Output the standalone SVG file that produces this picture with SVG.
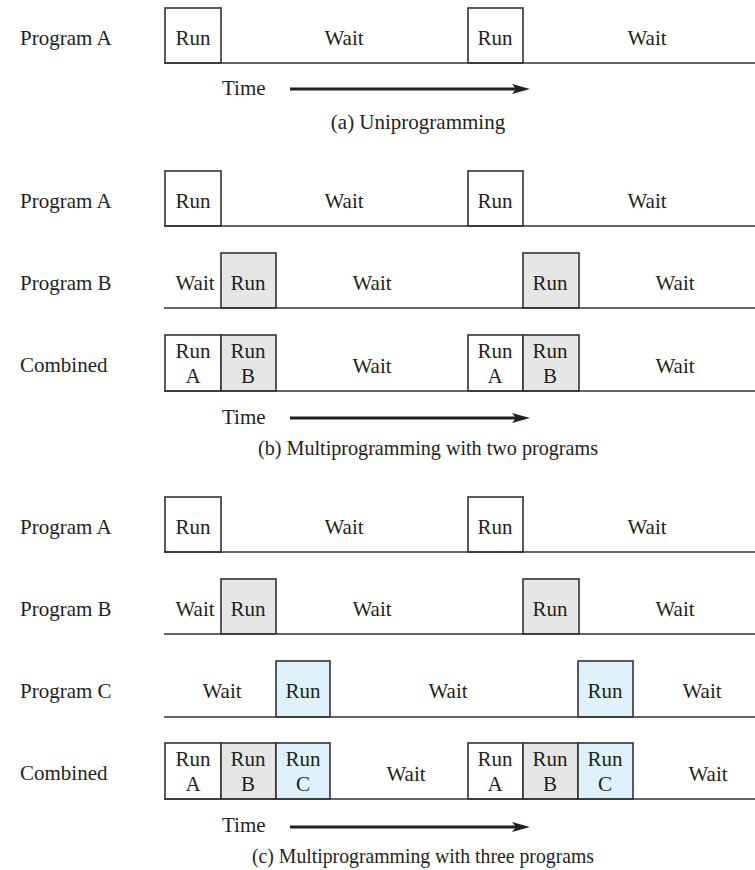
<svg xmlns="http://www.w3.org/2000/svg" width="755" height="870" viewBox="0 0 755 870">
<defs>
<style>
text{font-family:"Liberation Serif","DejaVu Serif",serif;font-size:21px;fill:#231f20}
.c{text-anchor:middle}
.box{stroke:#333;stroke-width:1.6}
.w{fill:#fff}
.g{fill:#e6e6e6}
.b{fill:#dff1fb}
.base{stroke:#333;stroke-width:1.6;fill:none}
.arrow{stroke:#231f20;stroke-width:3;fill:none;marker-end:url(#ah)}
</style>
<marker id="ah" markerUnits="userSpaceOnUse" markerWidth="20" markerHeight="10" refX="8" refY="5" orient="auto">
<path d="M0,0 L18,5 L0,10 L4,5 z" fill="#231f20"/>
</marker>
</defs>
<rect width="755" height="870" fill="#fff"/>

<!-- (a) -->
<g id="a-progA">
<text x="20" y="45">Program A</text>
<rect class="box w" x="165" y="8" width="56" height="55"/>
<rect class="box w" x="468" y="8" width="55" height="55"/>
<line class="base" x1="164" y1="63" x2="755" y2="63"/>
<text class="c" x="193" y="45">Run</text>
<text class="c" x="344" y="45">Wait</text>
<text class="c" x="495" y="45">Run</text>
<text class="c" x="647" y="45">Wait</text>
</g>
<g id="a-time">
<text x="222" y="95">Time</text>
<text class="c" x="418" y="129">(a) Uniprogramming</text>
</g>

<!-- (b) -->
<g id="b-progA">
<text x="20" y="208">Program A</text>
<rect class="box w" x="165" y="171" width="56" height="55"/>
<rect class="box w" x="468" y="171" width="55" height="55"/>
<line class="base" x1="164" y1="226" x2="755" y2="226"/>
<text class="c" x="193" y="208">Run</text>
<text class="c" x="344" y="208">Wait</text>
<text class="c" x="495" y="208">Run</text>
<text class="c" x="647" y="208">Wait</text>
</g>
<g id="b-progB">
<text x="20" y="290">Program B</text>
<rect class="box g" x="221" y="253" width="55" height="55"/>
<rect class="box g" x="523" y="253" width="56" height="55"/>
<line class="base" x1="164" y1="308" x2="755" y2="308"/>
<text class="c" x="195" y="290">Wait</text>
<text class="c" x="248" y="290">Run</text>
<text class="c" x="372" y="290">Wait</text>
<text class="c" x="550" y="290">Run</text>
<text class="c" x="675" y="290">Wait</text>
</g>
<g id="b-combined">
<text x="20" y="372">Combined</text>
<rect class="box w" x="165" y="335" width="56" height="56"/>
<rect class="box g" x="221" y="335" width="55" height="56"/>
<rect class="box w" x="468" y="335" width="55" height="56"/>
<rect class="box g" x="523" y="335" width="56" height="56"/>
<line class="base" x1="164" y1="391" x2="755" y2="391"/>
<text class="c" x="193" y="358">Run</text>
<text class="c" x="193" y="383">A</text>
<text class="c" x="248" y="358">Run</text>
<text class="c" x="248" y="383">B</text>
<text class="c" x="372" y="373">Wait</text>
<text class="c" x="495" y="358">Run</text>
<text class="c" x="495" y="383">A</text>
<text class="c" x="550" y="358">Run</text>
<text class="c" x="550" y="383">B</text>
<text class="c" x="675" y="373">Wait</text>
</g>
<g id="b-time">
<text x="222" y="424">Time</text>
<text class="c" x="428" y="455" textLength="340" lengthAdjust="spacingAndGlyphs">(b) Multiprogramming with two programs</text>
</g>

<!-- (c) -->
<g id="c-progA">
<text x="20" y="534">Program A</text>
<rect class="box w" x="165" y="497" width="56" height="55"/>
<rect class="box w" x="468" y="497" width="55" height="55"/>
<line class="base" x1="164" y1="552" x2="755" y2="552"/>
<text class="c" x="193" y="534">Run</text>
<text class="c" x="344" y="534">Wait</text>
<text class="c" x="495" y="534">Run</text>
<text class="c" x="647" y="534">Wait</text>
</g>
<g id="c-progB">
<text x="20" y="616">Program B</text>
<rect class="box g" x="221" y="579" width="55" height="55"/>
<rect class="box g" x="523" y="579" width="56" height="55"/>
<line class="base" x1="164" y1="634" x2="755" y2="634"/>
<text class="c" x="195" y="616">Wait</text>
<text class="c" x="248" y="616">Run</text>
<text class="c" x="372" y="616">Wait</text>
<text class="c" x="550" y="616">Run</text>
<text class="c" x="675" y="616">Wait</text>
</g>
<g id="c-progC">
<text x="20" y="698">Program C</text>
<rect class="box b" x="276" y="661" width="54" height="56"/>
<rect class="box b" x="578" y="661" width="55" height="56"/>
<line class="base" x1="164" y1="717" x2="755" y2="717"/>
<text class="c" x="222" y="698">Wait</text>
<text class="c" x="303" y="698">Run</text>
<text class="c" x="448" y="698">Wait</text>
<text class="c" x="605" y="698">Run</text>
<text class="c" x="702" y="698">Wait</text>
</g>
<g id="c-combined">
<text x="20" y="780">Combined</text>
<rect class="box w" x="165" y="743" width="56" height="56"/>
<rect class="box g" x="221" y="743" width="55" height="56"/>
<rect class="box b" x="276" y="743" width="54" height="56"/>
<rect class="box w" x="468" y="743" width="55" height="56"/>
<rect class="box g" x="523" y="743" width="55" height="56"/>
<rect class="box b" x="578" y="743" width="55" height="56"/>
<line class="base" x1="164" y1="799" x2="755" y2="799"/>
<text class="c" x="193" y="766">Run</text>
<text class="c" x="193" y="791">A</text>
<text class="c" x="248" y="766">Run</text>
<text class="c" x="248" y="791">B</text>
<text class="c" x="303" y="766">Run</text>
<text class="c" x="303" y="791">C</text>
<text class="c" x="406" y="781">Wait</text>
<text class="c" x="495" y="766">Run</text>
<text class="c" x="495" y="791">A</text>
<text class="c" x="550" y="766">Run</text>
<text class="c" x="550" y="791">B</text>
<text class="c" x="605" y="766">Run</text>
<text class="c" x="605" y="791">C</text>
<text class="c" x="708" y="781">Wait</text>
</g>
<g id="c-time">
<text x="222" y="832">Time</text>
<text class="c" x="423" y="863" textLength="342" lengthAdjust="spacingAndGlyphs">(c) Multiprogramming with three programs</text>
</g>

<g id="connectors">
<line class="arrow" x1="290" y1="89" x2="520" y2="89"/>
<line class="arrow" x1="290" y1="418" x2="520" y2="418"/>
<line class="arrow" x1="290" y1="827" x2="520" y2="827"/>
</g>
</svg>
